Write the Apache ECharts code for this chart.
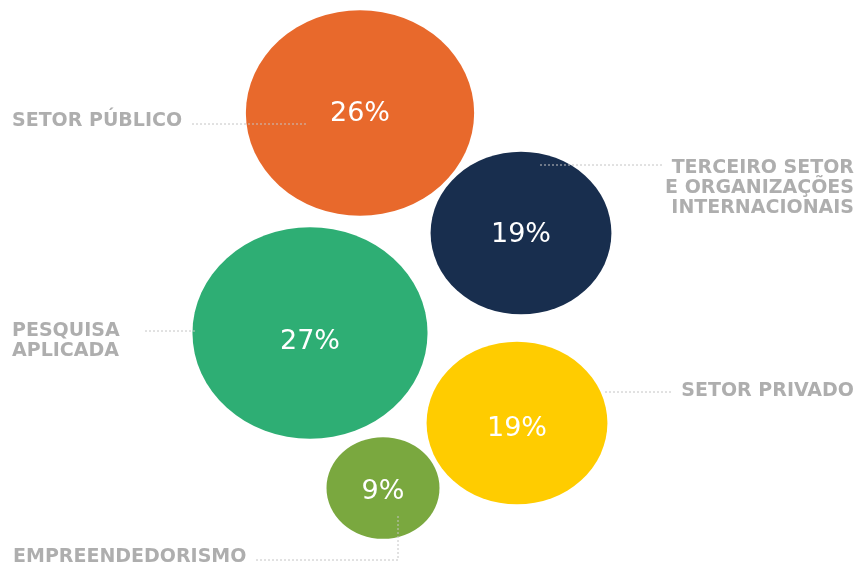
<!DOCTYPE html>
<html><head><meta charset="utf-8">
<script src="https://cdn.jsdelivr.net/npm/echarts@6/dist/echarts.min.js"></script>
<style>html,body{margin:0;padding:0;background:#fff}#c{width:858px;height:569px}</style>
</head><body><div id="c"></div>
<script>
const categories = ['SETOR PÚBLICO', 'TERCEIRO SETOR\nE ORGANIZAÇÕES\nINTERNACIONAIS', 'PESQUISA\nAPLICADA', 'SETOR PRIVADO', 'EMPREENDEDORISMO'];
const shares = [26, 19, 27, 19, 9];
const colors = ['#E8692C', '#182E4E', '#2EAE74', '#FFCC00', '#7AA83F'];
// bubble layout (chart units)
const bubbleX = [360, 521, 310, 517, 383];
const bubbleY = [113, 233, 333, 423, 488];
// category label anchors
const labelX = [12, 854, 12, 854, 13];
const labelY = [121, 188, 341, 391, 557];
const labelSide = ['left', 'right', 'left', 'right', 'left'];
// leader lines
const leaders = [
  [[192, 124], [308, 124]],
  [[540, 165], [662, 165]],
  [[145, 331], [196, 331]],
  [[605, 392], [672, 392]],
  [[256, 560], [398, 560], [398, 514]]
];

const valueLabelNudge = [1, 2, 9, 6, 4];
const ellipse = 'path://M0,50 A50,50 0 1,0 100,50 A50,50 0 1,0 0,50 Z';
const chart = echarts.init(document.getElementById('c'));
chart.setOption({
  animation: false,
  grid: { left: 0, right: 0, top: 0, bottom: 0 },
  xAxis: { type: 'value', min: 0, max: 858, show: false },
  yAxis: { type: 'value', min: 0, max: 569, inverse: true, show: false },
  series: [
    {
      type: 'scatter',
      z: 2,
      symbol: ellipse,
      symbolSize: function (val) { const w = 52 + 6.78 * val[2]; return [w, w * 0.9]; },
      data: shares.map((v, i) => ({
        value: [bubbleX[i], bubbleY[i], v],
        itemStyle: { color: colors[i], opacity: 1 },
        label: { offset: [0, valueLabelNudge[i]] }
      })),
      label: {
        show: true, position: 'inside', color: '#fff',
        fontFamily: 'DejaVu Sans', fontSize: 27, fontWeight: 'normal',
        formatter: p => p.value[2] + '%'
      },
      emphasis: { disabled: true }
    },
    {
      type: 'lines',
      coordinateSystem: 'cartesian2d',
      polyline: true,
      z: 3,
      lineStyle: { color: '#c4c4c4', width: 1, type: [2, 2], opacity: 1 },
      data: leaders.map(c => ({ coords: c }))
    },
    {
      type: 'scatter',
      z: 4,
      symbolSize: 0,
      data: categories.map((c, i) => ({
        value: [labelX[i], labelY[i]],
        label: {
          position: labelSide[i] === 'left' ? 'right' : 'left',
          align: labelSide[i] === 'left' ? 'left' : 'right'
        }
      })),
      label: {
        show: true, distance: 0, color: '#9a9a9a',
        fontFamily: 'DejaVu Sans', fontWeight: 'bold', fontSize: 19, lineHeight: 20,
        formatter: p => categories[p.dataIndex]
      },
      emphasis: { disabled: true }
    }
  ]
});
</script></body></html>
